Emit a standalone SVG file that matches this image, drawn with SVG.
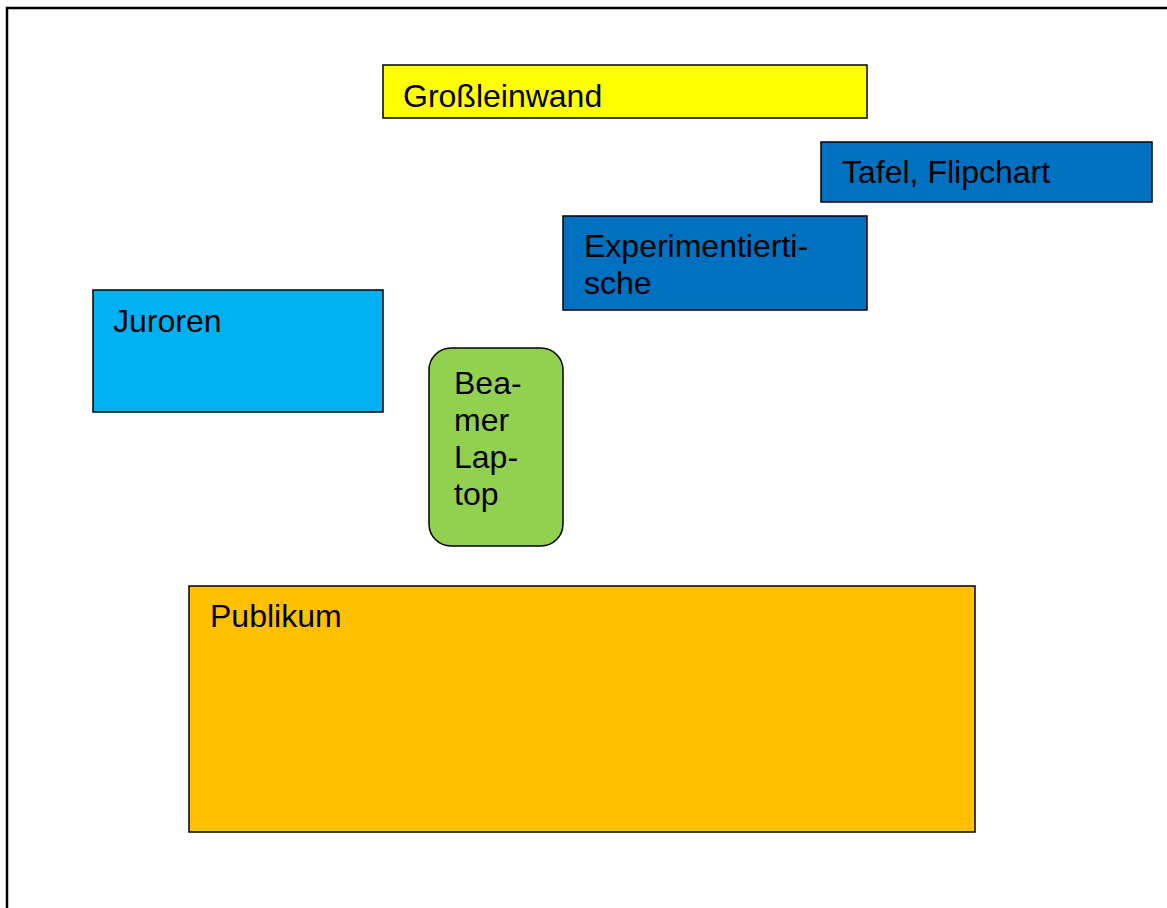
<svg xmlns="http://www.w3.org/2000/svg" width="1167" height="908" viewBox="0 0 1167 908">
<style>
.box{stroke:#000;stroke-width:1.5}
.t{font-family:"Liberation Sans",Arial,sans-serif;font-size:32px;fill:#000}
</style>
<rect width="1167" height="908" fill="#fff"/>
<path d="M7,908 V8 H1167" fill="none" stroke="#000" stroke-width="2.5"/>
<g id="grossleinwand"><rect class="box" x="383" y="65" width="484" height="53" fill="#FFFF00"/><text class="t" x="403" y="107">Großleinwand</text></g>
<g id="tafel"><rect class="box" x="821" y="142" width="331" height="60" fill="#0070C0"/><text class="t" x="842" y="183">Tafel, Flipchart</text></g>
<g id="experimentiertische"><rect class="box" x="563" y="216" width="304" height="94" fill="#0070C0"/><text class="t" x="584" y="257">Experimentierti-</text><text class="t" x="584" y="294">sche</text></g>
<g id="juroren"><rect class="box" x="93" y="290" width="290" height="122" fill="#00B0F0"/><text class="t" x="113" y="332">Juroren</text></g>
<g id="beamer"><rect class="box" x="429" y="348" width="134" height="198" rx="22" fill="#92D050"/><text class="t" x="454" y="394">Bea-</text><text class="t" x="454" y="431">mer</text><text class="t" x="454" y="468">Lap-</text><text class="t" x="454" y="505">top</text></g>
<g id="publikum"><rect class="box" x="189" y="586" width="786" height="246" fill="#FFC000"/><text class="t" x="210" y="627">Publikum</text></g>
<g id="connectors"/>
</svg>
